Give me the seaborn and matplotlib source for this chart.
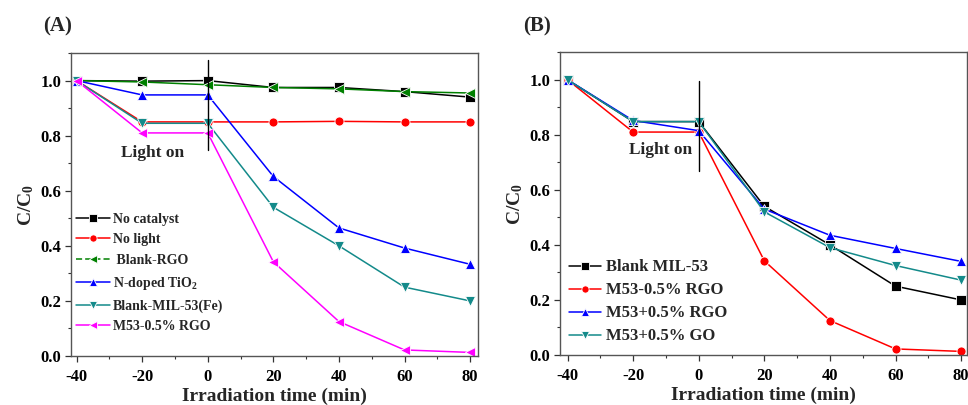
import numpy as np
import pandas as pd
import matplotlib
matplotlib.use("Agg")
import matplotlib.pyplot as plt
from matplotlib.ticker import MultipleLocator
import seaborn as sns

# ---------------- data ----------------
time = [-40, -20, 0, 20, 40, 60, 80]

# Panel A
a_labels = ["No catalyst", "No light", " Blank-RGO", "N-doped TiO$_2$",
            "Blank-MIL-53(Fe)", "M53-0.5% RGO"]
a_no_catalyst = [1.0, 0.998, 1.0, 0.975, 0.975, 0.96, 0.94]
a_no_light = [1.0, 0.85, 0.85, 0.85, 0.852, 0.85, 0.85]
a_blank_rgo = [1.0, 0.995, 0.985, 0.975, 0.97, 0.96, 0.955]
a_ndoped_tio2 = [1.0, 0.948, 0.948, 0.652, 0.465, 0.392, 0.333]
a_blank_mil = [1.0, 0.845, 0.845, 0.54, 0.40, 0.25, 0.20]
a_m53_rgo = [1.0, 0.81, 0.81, 0.342, 0.125, 0.022, 0.013]

# Panel B
b_labels = ["Blank MIL-53", "M53-0.5% RGO", "M53+0.5% RGO", "M53+0.5% GO"]
b_blank_mil = [1.0, 0.848, 0.848, 0.54, 0.40, 0.25, 0.20]
b_m53_minus_rgo = [1.0, 0.81, 0.81, 0.342, 0.125, 0.022, 0.013]
b_m53_plus_rgo = [1.0, 0.852, 0.815, 0.53, 0.435, 0.387, 0.34]
b_m53_plus_go = [1.0, 0.848, 0.848, 0.52, 0.39, 0.325, 0.272]

x_ticks = [-40, -20, 0, 20, 40, 60, 80]
y_ticks = [0.0, 0.2, 0.4, 0.6, 0.8, 1.0]

# ---------------- style ----------------
sns.set_style("ticks")
plt.rcParams["font.family"] = ["Liberation Serif", "DejaVu Serif"]
plt.rcParams["font.weight"] = "bold"
plt.rcParams["axes.labelweight"] = "bold"
plt.rcParams["mathtext.fontset"] = "custom"
plt.rcParams["mathtext.rm"] = "Liberation Serif:bold"
plt.rcParams["mathtext.it"] = "Liberation Serif:italic:bold"
plt.rcParams["mathtext.bf"] = "Liberation Serif:bold"
plt.rcParams["axes.unicode_minus"] = False

fig = plt.figure(figsize=(9.68, 4.05), dpi=100)
axA = fig.add_axes([0.0733, 0.121, 0.4205, 0.748])
axB = fig.add_axes([0.5785, 0.1235, 0.4202, 0.7475])

a_colors = ["#000000", "#ff0000", "#008000", "#0000ff", "#138a8a", "#ff00ff"]
a_markers = ["s", "o", "<", "^", "v", "<"]
b_colors = ["#000000", "#ff0000", "#0000ff", "#138a8a"]
b_markers = ["s", "o", "^", "v"]

a_series = [a_no_catalyst, a_no_light, a_blank_rgo, a_ndoped_tio2, a_blank_mil, a_m53_rgo]
b_series = [b_blank_mil, b_m53_minus_rgo, b_m53_plus_rgo, b_m53_plus_go]


def make_df(labels, series):
    rows = []
    for lab, vals in zip(labels, series):
        for t, v in zip(time, vals):
            rows.append({"time": t, "C": v, "series": lab})
    return pd.DataFrame(rows)


def draw(ax, labels, series, colors, markers):
    df = make_df(labels, series)
    sns.lineplot(data=df, x="time", y="C", hue="series", style="series",
                 hue_order=labels, style_order=labels,
                 palette=dict(zip(labels, colors)),
                 markers=dict(zip(labels, markers)), dashes=False,
                 linewidth=1.1, markersize=6.5, markeredgewidth=0.6,
                 ax=ax, legend=True)


draw(axA, a_labels, a_series, a_colors, a_markers)
draw(axB, b_labels, b_series, b_colors, b_markers)

for ax in (axA, axB):
    ax.set_ylim(0, 1.1)
    ax.set_xticks(x_ticks)
    ax.set_yticks(y_ticks)
    ax.set_yticklabels([f"{v:.1f}" for v in y_ticks])
    ax.xaxis.set_minor_locator(MultipleLocator(10))
    ax.yaxis.set_minor_locator(MultipleLocator(0.1))
    ax.tick_params(which="major", direction="out", length=4.5, width=0.9,
                   colors="#333333", labelcolor="black", labelsize=12)
    ax.tick_params(axis="x", which="major", pad=5)
    ax.tick_params(axis="y", which="major", pad=2.5)
    ax.tick_params(which="minor", direction="out", length=2.5, width=0.8,
                   colors="#333333")
    for s in ax.spines.values():
        s.set_visible(True)
        s.set_color("#555555")
        s.set_linewidth(1.0)
    ax.set_xlabel("Irradiation time (min)", fontsize=14, fontweight="bold",
                  labelpad=1.5)
    ax.set_ylabel("C/C$_0$", fontsize=14, fontweight="bold", labelpad=3)
    for lbl in ax.get_xticklabels() + ax.get_yticklabels():
        lbl.set_fontweight("bold")

axA.set_xlim(-41.7, 82.4)
axB.set_xlim(-42.3, 81.7)

# light-on markers
axA.plot([0, 0], [0.747, 1.074], color="black", lw=1.0)
axB.plot([0, 0], [0.67, 0.995], color="black", lw=1.0)
axA.text(-16.7, 0.736, "Light on", ha="center", va="center", fontsize=12.5,
         fontweight="bold")
axB.text(-11.7, 0.743, "Light on", ha="center", va="center", fontsize=12.5,
         fontweight="bold")

# legends
hA, lA = axA.get_legend_handles_labels()
hA[2].set_linestyle((0, (4, 2)))
axA.legend(hA, lA, loc="lower left", bbox_to_anchor=(0.013, 0.075),
           frameon=False, borderpad=0, borderaxespad=0, handlelength=2.4,
           handletextpad=0.25, labelspacing=0.55, markerscale=0.8,
           prop={"family": "Liberation Serif", "weight": "bold", "size": 10})

hB, lB = axB.get_legend_handles_labels()
axB.legend(hB, lB, loc="lower left", bbox_to_anchor=(0.022, 0.035),
           frameon=False, borderpad=0, borderaxespad=0, handlelength=1.95,
           handletextpad=0.25, labelspacing=0.42, markerscale=0.8,
           prop={"family": "Liberation Serif", "weight": "bold", "size": 12})

fig.text(0.0444, 0.935, "(A)", fontsize=15, fontweight="bold", ha="left",
         va="center")
fig.text(0.540, 0.935, "(B)", fontsize=15, fontweight="bold", ha="left",
         va="center")

fig.savefig("out.png", dpi=100)
